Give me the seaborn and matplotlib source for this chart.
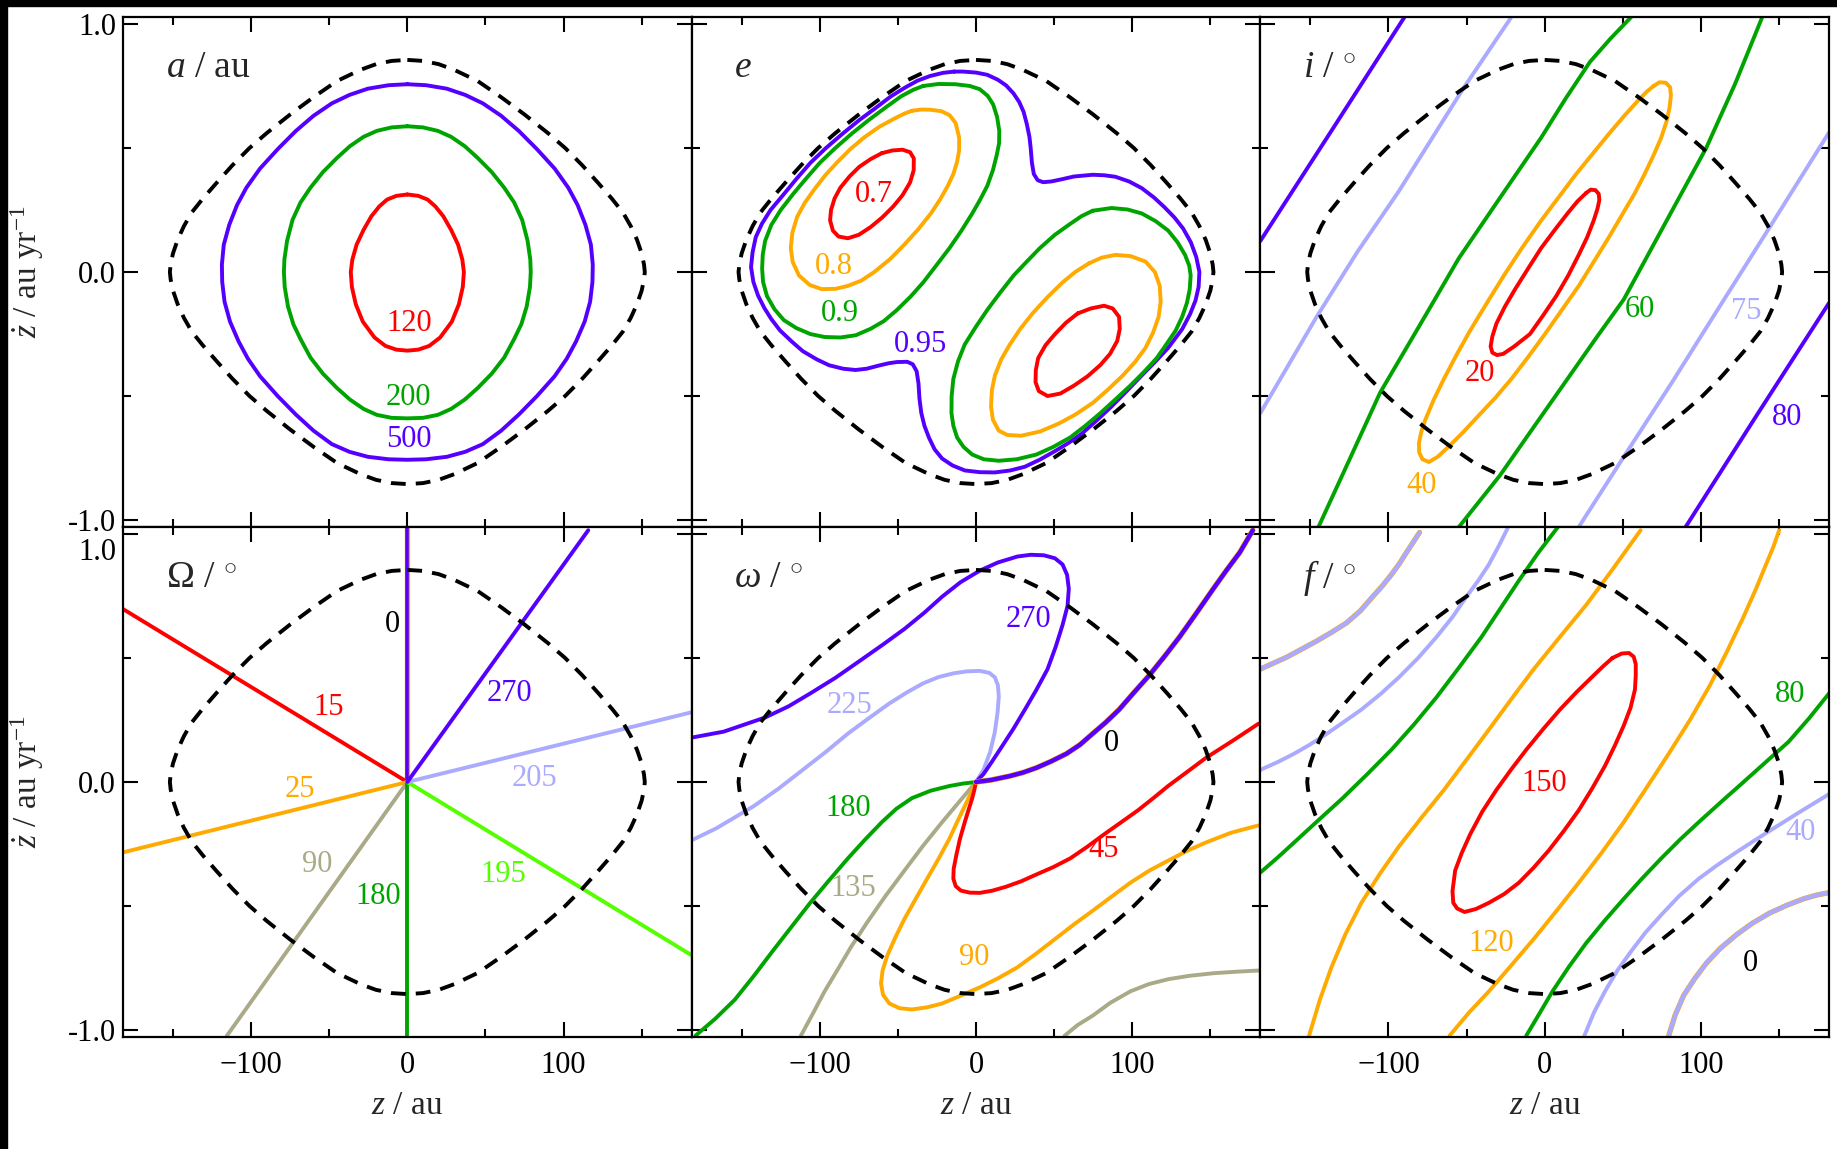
import matplotlib
matplotlib.use('Agg')
import matplotlib.pyplot as plt
import matplotlib.transforms as mtransforms
import seaborn as sns
import pandas as pd
from matplotlib.patches import Rectangle

# colours of the contour levels
RED = '#ff0000'
ORANGE = '#ffaa00'
GREEN = '#00a400'
PURPLE = '#5500ff'
LBLUE = '#aaaaff'
KHAKI = '#aaaa88'
LIME = '#55ff00'

# escape boundary (dashed), (z [au], zdot [au/yr])
BOUND = [(0, 0.855), (10, 0.851), (20, 0.838), (30, 0.815), (45, 0.77), (60, 0.705),
         (75, 0.635), (90, 0.56), (101, 0.5), (112, 0.43), (122, 0.36), (131, 0.295),
         (138, 0.24), (143, 0.185), (147, 0.13), (150, 0.075), (151.5, 0.03), (152, 0),
         (151.5, -0.03), (150, -0.075), (147, -0.13), (143, -0.185), (138, -0.24),
         (131, -0.295), (122, -0.36), (112, -0.43), (101, -0.5), (90, -0.56), (75, -0.635),
         (60, -0.705), (45, -0.77), (30, -0.815), (20, -0.838), (10, -0.851), (0, -0.855),
         (-10, -0.851), (-20, -0.838), (-30, -0.815), (-45, -0.77), (-60, -0.705),
         (-75, -0.635), (-90, -0.56), (-101, -0.5), (-112, -0.43), (-122, -0.36),
         (-131, -0.295), (-138, -0.24), (-143, -0.185), (-147, -0.13), (-150, -0.075),
         (-151.5, -0.03), (-152, 0), (-151.5, 0.03), (-150, 0.075), (-147, 0.13),
         (-143, 0.185), (-138, 0.24), (-131, 0.295), (-122, 0.36), (-112, 0.43),
         (-101, 0.5), (-90, 0.56), (-75, 0.635), (-60, 0.705), (-45, 0.77), (-30, 0.815),
         (-20, 0.838), (-10, 0.851)]

# ---- a / au
A_120 = [(0, 0.3125), (7, 0.307), (13, 0.292), (18, 0.264), (23, 0.225), (28, 0.17),
         (32.5, 0.11), (35.2, 0.05), (36.2, 0), (35.5, -0.06), (33, -0.13), (28.5, -0.2),
         (21, -0.264), (14, -0.298), (7, -0.313), (0, -0.317), (-7, -0.313), (-14, -0.298),
         (-21, -0.264), (-28.5, -0.2), (-33, -0.13), (-35.5, -0.06), (-36.2, 0),
         (-35.2, 0.05), (-32.5, 0.11), (-28, 0.17), (-23, 0.225), (-18, 0.264),
         (-13, 0.292), (-7, 0.307)]
A_200 = [(0, 0.5875), (10, 0.583), (19.5, 0.569), (28, 0.545), (36.8, 0.507), (45, 0.46),
         (54, 0.403), (62, 0.34), (68.4, 0.28), (73.5, 0.21), (77, 0.125), (78.7, 0.05),
         (79, 0), (78.5, -0.06), (76.4, -0.139), (73, -0.21), (68.4, -0.27), (62, -0.345),
         (54, -0.41), (45, -0.468), (36.8, -0.514), (28, -0.552), (19.5, -0.576),
         (10, -0.588), (0, -0.59), (-10, -0.588), (-19.5, -0.576), (-28, -0.552),
         (-36.8, -0.514), (-45, -0.468), (-54, -0.41), (-62, -0.345), (-68.4, -0.27),
         (-73, -0.21), (-76.4, -0.139), (-78.5, -0.06), (-79, 0), (-78.7, 0.05),
         (-77, 0.125), (-73.5, 0.21), (-68.4, 0.28), (-62, 0.34), (-54, 0.403),
         (-45, 0.46), (-36.8, 0.507), (-28, 0.545), (-19.5, 0.569), (-10, 0.583)]
A_500 = [(0, 0.757), (12, 0.753), (25.3, 0.739), (37, 0.714), (48.3, 0.68), (60, 0.63),
         (71.3, 0.569), (83, 0.495), (94.3, 0.417), (103, 0.34), (109, 0.27), (114, 0.19),
         (117.5, 0.11), (118.7, 0.03), (118.5, -0.04), (117, -0.12), (113.5, -0.2),
         (108, -0.28), (102, -0.35), (94.3, -0.42), (83, -0.5), (71.3, -0.575), (60, -0.64),
         (48.3, -0.694), (37, -0.725), (25.3, -0.745), (12, -0.755), (0, -0.757),
         (-12, -0.755), (-25.3, -0.745), (-37, -0.725), (-48.3, -0.694), (-60, -0.64),
         (-71.3, -0.575), (-83, -0.5), (-94.3, -0.42), (-102, -0.35), (-108, -0.28),
         (-113.5, -0.2), (-117, -0.12), (-118.5, -0.04), (-118.7, 0.03), (-117.5, 0.11),
         (-114, 0.19), (-109, 0.27), (-103, 0.34), (-94.3, 0.417), (-83, 0.495),
         (-71.3, 0.569), (-60, 0.63), (-48.3, 0.68), (-37, 0.714), (-25.3, 0.739),
         (-12, 0.753)]

# ---- e
E_095 = [(-14, 0.808), (-8.4, 0.808), (0, 0.804), (7.2, 0.795), (14, 0.775), (19.3, 0.752),
         (24, 0.72), (27.7, 0.685), (30.5, 0.645), (32.5, 0.597), (34.2, 0.545), (35, 0.5),
         (35.8, 0.44), (37, 0.395), (39.5, 0.37), (43, 0.362), (48.2, 0.365), (55, 0.374),
         (62.7, 0.385), (74.7, 0.392), (82, 0.39), (89.2, 0.384), (98, 0.365),
         (106.1, 0.338), (114, 0.3), (120.5, 0.262), (127, 0.22), (132.6, 0.175),
         (137.5, 0.12), (141, 0.06), (143, 0.0), (142.5, -0.06), (140.5, -0.115),
         (137, -0.17), (132, -0.23), (123, -0.306), (115, -0.36), (106.1, -0.417),
         (96.5, -0.48), (86.8, -0.542), (77, -0.6), (67.5, -0.653), (59, -0.69),
         (50.6, -0.722), (41, -0.756), (31.3, -0.785), (22, -0.8), (12.1, -0.808),
         (2.5, -0.807), (-7.2, -0.8), (-15, -0.78), (-21.7, -0.752), (-26.5, -0.715),
         (-30.1, -0.668), (-33, -0.62), (-35, -0.569), (-36.2, -0.51), (-36.8, -0.45),
         (-38, -0.4), (-40.5, -0.372), (-44, -0.362), (-50.6, -0.363), (-56, -0.368),
         (-62.7, -0.378), (-70, -0.39), (-77.1, -0.395), (-85, -0.39), (-94, -0.376),
         (-102, -0.352), (-110.9, -0.319), (-118, -0.28), (-125.4, -0.236), (-131, -0.19),
         (-135.5, -0.145), (-139.5, -0.095), (-142.5, -0.04), (-144, 0.02), (-143, 0.08),
         (-141, 0.14), (-137, 0.195), (-131.5, 0.25), (-123.5, 0.31), (-115, 0.375),
         (-106, 0.44), (-96, 0.5), (-85.5, 0.557), (-75, 0.611), (-64.5, 0.66),
         (-54.5, 0.708), (-45, 0.745), (-37.5, 0.771), (-29.5, 0.79), (-21, 0.803)]
E_09_UL = [(-33.8, 0.75), (-24, 0.758), (-13.3, 0.757), (-4, 0.75), (2.4, 0.737), (7.5, 0.71),
           (11, 0.675), (13.5, 0.625), (14.9, 0.569), (14.8, 0.52), (13.3, 0.472),
           (10.8, 0.41), (7.2, 0.347), (2.5, 0.29), (-2.4, 0.236), (-9.5, 0.165),
           (-16.9, 0.097), (-25, 0.03), (-33.8, -0.042), (-42, -0.1), (-50.6, -0.153),
           (-59, -0.198), (-67.5, -0.229), (-77, -0.255), (-86.8, -0.264), (-97, -0.262),
           (-106.1, -0.25), (-115, -0.226), (-123, -0.194), (-129, -0.15), (-133.8, -0.097),
           (-136.3, -0.04), (-136.9, 0.014), (-136.5, 0.07), (-135, 0.125), (-131, 0.19),
           (-125, 0.25), (-117, 0.315), (-109, 0.375), (-100, 0.44), (-90, 0.5),
           (-79.5, 0.558), (-69, 0.611), (-57.5, 0.665), (-48, 0.708), (-40, 0.735)]
E_09_LR = [(74.7, 0.247), (86.8, 0.258), (97, 0.252), (106.1, 0.236), (115, 0.205),
           (123, 0.167), (129, 0.12), (133.8, 0.069), (136.5, 0.025), (137.4, -0.014),
           (136.8, -0.07), (135, -0.125), (132, -0.18), (127.8, -0.236), (122, -0.29),
           (115.7, -0.347), (107.5, -0.403), (98.8, -0.458), (89, -0.515), (79.6, -0.569),
           (70, -0.62), (60.3, -0.667), (49.5, -0.705), (38.6, -0.736), (26, -0.755),
           (14.5, -0.761), (5, -0.755), (-2.4, -0.736), (-8, -0.705), (-12.1, -0.667),
           (-14.5, -0.62), (-15.7, -0.569), (-15.6, -0.5), (-14.5, -0.431), (-11.5, -0.36),
           (-7.2, -0.292), (0, -0.22), (7.2, -0.153), (15.5, -0.083), (24.1, -0.014),
           (32.5, 0.042), (41, 0.097), (50.5, 0.15), (60.3, 0.194), (67.5, 0.225)]
E_08_UL = [(-41.0, 0.65), (-35, 0.655), (-28.9, 0.654), (-22, 0.648), (-16.9, 0.632),
           (-13, 0.6), (-10.8, 0.542), (-10.8, 0.49), (-12.1, 0.444), (-14.5, 0.395),
           (-18.1, 0.347), (-23, 0.292), (-28.9, 0.236), (-37, 0.172), (-45.8, 0.111),
           (-55, 0.052), (-65.1, 0.0), (-73.5, -0.035), (-82, -0.056), (-90, -0.068),
           (-98.8, -0.069), (-106.5, -0.052), (-113.3, -0.014), (-117.3, 0.04),
           (-118.6, 0.097), (-117.5, 0.16), (-114.5, 0.222), (-109.5, 0.28), (-103.5, 0.333),
           (-96.5, 0.39), (-88.6, 0.444), (-80.5, 0.495), (-71.7, 0.542), (-62, 0.585),
           (-52.4, 0.618), (-46, 0.638)]
E_08_LR = [(72.3, 0.035), (80.5, 0.058), (89.2, 0.069), (99, 0.064), (108.5, 0.042),
           (114.5, 0.0), (117.6, -0.056), (118.2, -0.12), (116.9, -0.181), (113.3, -0.245),
           (108.5, -0.306), (101.5, -0.365), (94, -0.417), (84.5, -0.474), (74.7, -0.528),
           (63.5, -0.575), (53, -0.611), (41, -0.643), (28.9, -0.66), (20, -0.657),
           (14.5, -0.639), (10.8, -0.595), (9.6, -0.542), (10.2, -0.475), (12.1, -0.417),
           (16.2, -0.352), (21.7, -0.292), (28.5, -0.228), (36.2, -0.167), (45.5, -0.103),
           (55.4, -0.042), (63.5, 0.0)]
E_07_UL = [(-60.3, 0.479), (-53.5, 0.49), (-47, 0.493), (-42.2, 0.483), (-39.8, 0.458),
           (-39.9, 0.41), (-42.2, 0.361), (-47, 0.31), (-53, 0.264), (-60, 0.22),
           (-67.5, 0.181), (-75, 0.15), (-82, 0.136), (-88, 0.143), (-91.6, 0.167),
           (-93.4, 0.208), (-92.8, 0.25), (-90.5, 0.297), (-86.8, 0.34), (-81, 0.385),
           (-74.7, 0.424), (-67.5, 0.455)]
E_07_LR = [(65.1, -0.167), (73.5, -0.147), (82, -0.136), (87.5, -0.147), (91.6, -0.181),
           (92, -0.23), (90.4, -0.278), (85.8, -0.33), (79.6, -0.375), (71.5, -0.42),
           (62.7, -0.458), (54, -0.49), (45.8, -0.5), (40.2, -0.48), (38.1, -0.444),
           (38.3, -0.395), (39.8, -0.347), (44.5, -0.295), (50.6, -0.25), (57.5, -0.205)]

# ---- i / deg
I_80_UL = [(-182, 0.125), (-136.5, 0.569), (-89.7, 1.028)]
I_80_LR = [(90.2, -1.028), (136, -0.575), (182, -0.125)]
I_75_UL = [(-182, -0.569), (-146, -0.181), (-120, 0.08), (-93.3, 0.326), (-52.5, 0.736),
           (-21.3, 1.028)]
I_75_LR = [(21.8, -1.028), (53, -0.722), (82, -0.44), (110.6, -0.153), (144.1, 0.181),
           (182, 0.5625)]
I_60_UL = [(-144.8, -1.028), (-125, -0.757), (-105.3, -0.486), (-80, -0.215), (-54.9, 0.056),
           (-28.5, 0.3), (-2.2, 0.542), (13.5, 0.7), (29, 0.847), (42, 0.94), (55.4, 1.028)]
I_60_LR = [(-54.9, -1.028), (-28.5, -0.819), (-7, -0.625), (14.6, -0.431), (32.5, -0.27),
           (50.6, -0.111), (74.6, 0.167), (103.4, 0.5), (122, 0.76), (139.3, 1.028)]
I_40 = [(69.8, 0.75), (73.5, 0.765), (77.5, 0.763), (80.3, 0.745), (80.8, 0.712), (80, 0.665),
        (78.2, 0.611), (74.5, 0.54), (69.8, 0.472), (64, 0.395), (57.8, 0.319), (49.5, 0.23),
        (41, 0.139), (31.5, 0.042), (21.8, -0.056), (11, -0.153), (0.2, -0.25),
        (-10.5, -0.342), (-21.3, -0.431), (-32, -0.51), (-42.9, -0.583), (-52.5, -0.648),
        (-62.1, -0.708), (-68.5, -0.745), (-74.1, -0.766), (-78.2, -0.755), (-80.3, -0.728),
        (-80.5, -0.69), (-79, -0.645), (-76.5, -0.597), (-71, -0.515), (-64.5, -0.431),
        (-56.5, -0.335), (-47.7, -0.236), (-37, -0.125), (-26.1, -0.014), (-14.2, 0.1),
        (-2.2, 0.208), (8.8, 0.3), (19.4, 0.389), (30.5, 0.475), (41, 0.556), (51, 0.63),
        (60.2, 0.694), (65.5, 0.728)]
I_20 = [(26.6, 0.319), (29.5, 0.332), (32.5, 0.33), (34.6, 0.315), (35, 0.29), (33.8, 0.255),
        (31.4, 0.208), (27.2, 0.14), (21.8, 0.069), (15, -0.015), (7.4, -0.097), (-1, -0.175),
        (-9.4, -0.25), (-19.5, -0.3), (-26.5, -0.33), (-30.5, -0.335), (-33.5, -0.325),
        (-34.6, -0.3), (-33.5, -0.26), (-30.9, -0.208), (-25.5, -0.14), (-18.9, -0.069),
        (-10.5, 0.015), (-2.2, 0.097), (6.5, 0.17), (14.6, 0.236), (21, 0.285)]

# ---- Omega / deg (rays from the origin)
OM_0 = [(0, 0), (0, 1.028)]
OM_15 = [(0, 0), (-182.2, 0.698)]
OM_25 = [(0, 0), (-182.2, -0.284)]
OM_90 = [(0, 0), (-115.5, -1.023)]
OM_180 = [(0, 0), (0, -1.028)]
OM_195 = [(0, 0), (181.9, -0.698)]
OM_205 = [(0, 0), (181.9, 0.281)]
OM_270 = [(0, 0), (115.8, 1.015)]

# ---- omega / deg
W_270 = [(-182, 0.179), (-161.5, 0.203), (-135, 0.26), (-120, 0.305), (-106.1, 0.357),
         (-90, 0.42), (-74.7, 0.487), (-60, 0.552), (-45.8, 0.617), (-33, 0.683),
         (-21.7, 0.747), (-10, 0.805), (2.4, 0.852), (14, 0.885), (26.5, 0.909), (35, 0.916),
         (43.4, 0.914), (50.5, 0.902), (55.4, 0.877), (58.3, 0.835), (59.4, 0.779),
         (58.6, 0.71), (55.4, 0.633), (51, 0.545), (45.8, 0.455), (38.5, 0.37), (31.3, 0.292),
         (24, 0.215), (16.9, 0.146), (10, 0.08), (4.8, 0.032), (0, 0)]
W_0 = [(0, 0), (9.6, 0.008), (21.7, 0.024), (30, 0.038), (38.6, 0.057), (48, 0.083),
       (57.9, 0.114), (66.5, 0.15), (74.7, 0.195), (83, 0.24), (91.6, 0.292), (101, 0.36),
       (110.9, 0.43), (120.5, 0.505), (130.2, 0.584), (141, 0.68), (151.9, 0.779),
       (160.5, 0.855), (168.8, 0.925), (177.2, 1.015)]
W_225 = [(-182, -0.235), (-166.3, -0.187), (-142.2, -0.097), (-126, -0.025), (-110.9, 0.049),
         (-96, 0.122), (-82, 0.195), (-68, 0.26), (-55.4, 0.317), (-44, 0.362),
         (-33.8, 0.398), (-24, 0.423), (-14.5, 0.438), (-6, 0.446), (2.4, 0.448), (8.5, 0.44),
         (12.1, 0.422), (14, 0.39), (14.6, 0.345), (13.8, 0.28), (12, 0.2), (9, 0.12),
         (4.8, 0.049), (0, 0)]
W_180 = [(0, 0), (-8, -0.006), (-16.9, -0.016), (-29, -0.035), (-41, -0.065), (-51, -0.108),
         (-60.3, -0.162), (-71, -0.232), (-82, -0.308), (-94, -0.396), (-106.1, -0.487),
         (-118, -0.583), (-130.2, -0.682), (-142, -0.78), (-154.3, -0.877), (-167, -0.955),
         (-179.6, -1.023)]
W_135_A = [(0, 0), (-10.5, -0.078), (-21.7, -0.162), (-34, -0.258), (-45.8, -0.357),
           (-58, -0.46), (-69.9, -0.568), (-80, -0.665), (-89.2, -0.763), (-97, -0.845),
           (-103.7, -0.925), (-112.1, -1.023)]
W_135_B = [(56.7, -1.023), (65, -0.98), (74.7, -0.942), (86, -0.89), (98.8, -0.844),
           (110.5, -0.815), (123, -0.795), (137, -0.781), (151.9, -0.771), (166, -0.765),
           (180.8, -0.76)]
W_90 = [(0, 0), (-3.5, -0.048), (-7.2, -0.097), (-12, -0.16), (-16.9, -0.227), (-24, -0.31),
        (-31.3, -0.39), (-38.5, -0.47), (-45.8, -0.552), (-51.5, -0.625), (-56.7, -0.698),
        (-59.8, -0.76), (-60.8, -0.812), (-59.5, -0.858), (-55.4, -0.893), (-49, -0.912),
        (-41, -0.917), (-31, -0.908), (-21.7, -0.893), (-10, -0.862), (2.4, -0.828),
        (14.5, -0.79), (26.5, -0.747), (38.5, -0.692), (50.6, -0.633), (62.5, -0.575),
        (74.7, -0.519), (86.8, -0.462), (98.8, -0.406), (111, -0.357), (123, -0.317),
        (135, -0.278), (147.1, -0.244), (163, -0.205), (180.8, -0.175)]
W_45 = [(0, 0), (-1, -0.03), (-2.4, -0.065), (-4.8, -0.113), (-7.2, -0.162), (-10.3, -0.23),
        (-12.5, -0.292), (-14.3, -0.35), (-14.5, -0.39), (-13, -0.42), (-9.6, -0.438),
        (-4, -0.446), (2.4, -0.447), (10.5, -0.438), (19.3, -0.422), (29, -0.4),
        (38.6, -0.373), (49.5, -0.343), (60.3, -0.308), (71, -0.262), (82, -0.211),
        (93, -0.162), (103.7, -0.114), (113.5, -0.065), (123, -0.016), (135, 0.04),
        (147.1, 0.097), (164, 0.165), (180.8, 0.235)]

# ---- f / deg
F_0_UL = [(-182, 0.455), (-174, 0.478), (-165.2, 0.503), (-156, 0.534), (-146, 0.568),
          (-136.5, 0.603), (-126.9, 0.641), (-118, 0.69), (-110.1, 0.747), (-104, 0.79),
          (-98.1, 0.836), (-93, 0.88), (-88.5, 0.925), (-84, 0.968), (-80.1, 1.006)]
F_0_LR = [(79.4, -1.023), (83.5, -0.94), (89, -0.86), (96, -0.793), (103.4, -0.731),
          (112.5, -0.67), (122.5, -0.617), (133, -0.569), (144.1, -0.528), (155, -0.497),
          (165.7, -0.471), (174, -0.456), (182, -0.446)]
F_40_UL = [(-182, 0.049), (-171, 0.08), (-160.4, 0.114), (-151, 0.148), (-141.2, 0.187),
           (-129.5, 0.238), (-117.3, 0.292), (-105, 0.355), (-93.3, 0.422), (-81, 0.5),
           (-69.3, 0.584), (-59, 0.665), (-50.1, 0.747), (-42.5, 0.812), (-35.7, 0.877),
           (-29.5, 0.95), (-23.7, 1.023)]
F_40_LR = [(25.4, -1.023), (31.5, -0.93), (38.6, -0.844), (46.5, -0.76), (55.4, -0.682),
           (64.5, -0.607), (74.6, -0.536), (86, -0.46), (98.6, -0.39), (110.5, -0.335),
           (122.5, -0.284), (134.5, -0.235), (146.5, -0.187), (164, -0.118), (182, -0.049)]
F_80_UL = [(-182, -0.365), (-171, -0.305), (-160.4, -0.244), (-145, -0.155), (-129.3, -0.065),
           (-113.5, 0.032), (-98.1, 0.13), (-83.5, 0.233), (-69.3, 0.341), (-55, 0.46),
           (-40.5, 0.584), (-28.5, 0.698), (-16.5, 0.812), (-4, 0.925), (8.5, 1.028)]
F_80_LR = [(-11.8, -1.023), (-3.5, -0.935), (5, -0.844), (15.5, -0.745), (26.6, -0.649),
           (38.5, -0.558), (50.6, -0.471), (62.5, -0.388), (74.6, -0.308), (86.5, -0.233),
           (98.6, -0.162), (113, -0.08), (127.3, 0.0), (141.5, 0.08), (156.1, 0.162),
           (169, 0.255), (182, 0.357)]
F_120_L = [(-150.8, -1.023), (-144, -0.88), (-136.5, -0.747), (-127.5, -0.613),
           (-117.3, -0.487), (-105.5, -0.37), (-93.3, -0.26), (-79, -0.145), (-64.5, -0.032),
           (-50, 0.09), (-35.7, 0.211), (-21.5, 0.333), (-7, 0.455), (9.5, 0.583),
           (26.6, 0.714), (44, 0.862), (61.4, 1.015)]
F_120_R = [(-60.9, -1.023), (-48.5, -0.93), (-35.7, -0.844), (-21.5, -0.74), (-7, -0.633),
           (7.5, -0.52), (21.8, -0.406), (36.5, -0.285), (50.6, -0.162), (65, -0.025),
           (79.4, 0.114), (93, 0.25), (105.8, 0.39), (117, 0.53), (127.3, 0.666),
           (135, 0.775), (141.7, 0.877), (146.5, 0.95), (150.1, 1.015)]
F_150 = [(43.4, 0.5), (49.4, 0.518), (54, 0.52), (57, 0.505), (58.3, 0.475), (58.3, 0.43),
         (57.8, 0.373), (55, 0.3), (50.6, 0.227), (45, 0.148), (38.6, 0.065), (30.5, -0.025),
         (21.8, -0.114), (12.3, -0.197), (2.6, -0.276), (-7, -0.345), (-16.5, -0.406),
         (-26, -0.452), (-35.7, -0.487), (-44, -0.512), (-51.3, -0.524), (-56, -0.51),
         (-58.5, -0.487), (-59, -0.44), (-57.3, -0.357), (-53, -0.285), (-47.7, -0.211),
         (-40, -0.12), (-30.9, -0.032), (-21.5, 0.05), (-11.8, 0.13), (-1, 0.213),
         (9.8, 0.292), (20.5, 0.363), (31.4, 0.43), (37.5, 0.467)]

# panel titles and contour labels (text, z, zdot, colour)
TITLES = [r'$a$ / au', r'$e$', r'$i$ / $^{\circ}$',
          r'$\Omega$ / $^{\circ}$', r'$\omega$ / $^{\circ}$', r'$f$ / $^{\circ}$']
LABELS_A = [('120', 0.9, -0.208, RED), ('200', 0.9, -0.507, GREEN), ('500', 0.9, -0.674, PURPLE)]
LABELS_E = [('0.7', -65.6, 0.3125, RED), ('0.8', -91.1, 0.021, ORANGE),
            ('0.9', -87.3, -0.167, GREEN), ('0.95', -35.4, -0.292, PURPLE)]
LABELS_I = [('20', -41.2, -0.41, RED), ('40', -78.9, -0.861, ORANGE), ('60', 60.7, -0.153, GREEN),
            ('75', 129.3, -0.16, LBLUE), ('80', 155.4, -0.586, PURPLE)]
LABELS_OM = [('0', -9.8, 0.633, 'black'), ('15', -50.3, 0.30, RED), ('25', -69, -0.032, ORANGE),
             ('90', -57.5, -0.333, KHAKI), ('180', -18.4, -0.463, GREEN),
             ('195', 61.2, -0.373, LIME), ('205', 81.3, 0.016, LBLUE),
             ('270', 65.5, 0.357, PURPLE)]
LABELS_W = [('270', 33.8, 0.657, PURPLE), ('225', -80.8, 0.308, LBLUE),
            ('180', -81.5, -0.106, GREEN), ('135', -78.3, -0.43, KHAKI),
            ('90', -1.2, -0.706, ORANGE), ('45', 81.5, -0.273, RED), ('0', 86.8, 0.154, 'black')]
LABELS_F = [('150', -0.5, -0.008, RED), ('120', -34.5, -0.653, ORANGE), ('80', 157.3, 0.352, GREEN),
            ('40', 163.8, -0.203, LBLUE), ('0', 131.4, -0.731, 'black')]

sns.set_style('ticks')
plt.rcParams['font.family'] = ['Liberation Serif', 'DejaVu Serif']
plt.rcParams['mathtext.fontset'] = 'custom'
plt.rcParams['mathtext.rm'] = 'Liberation Serif'
plt.rcParams['mathtext.it'] = 'Liberation Serif:italic'
plt.rcParams['mathtext.bf'] = 'Liberation Serif:bold'

LW = 2.8


def curve(ax, pts, color, lw=LW, closed=False, **kw):
    if closed:
        pts = pts + pts[:1]
    df = pd.DataFrame(pts, columns=['z', 'zd'])
    sns.lineplot(data=df, x='z', y='zd', sort=False, estimator=None, color=color,
                 lw=lw, ax=ax, **kw)


fig, axes = plt.subplots(2, 3, figsize=(18.37, 11.49), dpi=100)
fig.subplots_adjust(left=123 / 1837, right=1829 / 1837, top=1 - 17 / 1149,
                    bottom=1 - 1037 / 1149, wspace=0, hspace=0)

# a
ax = axes[0, 0]
curve(ax, A_120, RED, closed=True)
curve(ax, A_200, GREEN, closed=True)
curve(ax, A_500, PURPLE, closed=True)

# e
ax = axes[0, 1]
curve(ax, E_095, PURPLE, closed=True)
for c in (E_09_UL, E_09_LR):
    curve(ax, c, GREEN, closed=True)
for c in (E_08_UL, E_08_LR):
    curve(ax, c, ORANGE, closed=True)
for c in (E_07_UL, E_07_LR):
    curve(ax, c, RED, closed=True)

# i
ax = axes[0, 2]
for c in (I_80_UL, I_80_LR):
    curve(ax, c, PURPLE)
for c in (I_75_UL, I_75_LR):
    curve(ax, c, LBLUE)
for c in (I_60_UL, I_60_LR):
    curve(ax, c, GREEN)
curve(ax, I_40, ORANGE, closed=True)
curve(ax, I_20, RED, closed=True)

# Omega
ax = axes[1, 0]
curve(ax, OM_0, ORANGE, lw=3.8)
curve(ax, OM_0, PURPLE, lw=2.6)
for c, col in ((OM_15, RED), (OM_25, ORANGE), (OM_90, KHAKI), (OM_180, GREEN),
               (OM_195, LIME), (OM_205, LBLUE), (OM_270, PURPLE)):
    curve(ax, c, col)

# omega
ax = axes[1, 1]
curve(ax, W_225, LBLUE)
curve(ax, W_135_A, KHAKI)
curve(ax, W_135_B, KHAKI)
curve(ax, W_180, GREEN)
curve(ax, W_90, ORANGE)
curve(ax, W_45, RED)
curve(ax, W_270, PURPLE)
curve(ax, W_0, ORANGE, lw=4.0)
curve(ax, W_0, PURPLE, lw=3.2)

# f
ax = axes[1, 2]
for c in (F_0_UL, F_0_LR):
    curve(ax, c, ORANGE, lw=3.8)
    curve(ax, c, LBLUE, lw=3.2)
for c in (F_40_UL, F_40_LR):
    curve(ax, c, LBLUE)
for c in (F_80_UL, F_80_LR):
    curve(ax, c, GREEN)
for c in (F_120_L, F_120_R):
    curve(ax, c, ORANGE)
curve(ax, F_150, RED, closed=True)

all_labels = [LABELS_A, LABELS_E, LABELS_I, LABELS_OM, LABELS_W, LABELS_F]
for k, ax in enumerate(axes.flat):
    row, col = divmod(k, 3)
    curve(ax, BOUND, 'black', lw=LW, closed=True, linestyle=(0, (3.8, 2.6)), zorder=5)
    for s, z, zd, c in all_labels[k]:
        ax.text(z, zd, s, color=c, fontsize=22, ha='center', va='center', zorder=6)
    ax.text(0.075, 0.90, TITLES[k], transform=ax.transAxes, fontsize=27,
            ha='left', va='center', zorder=6)

    ax.set_xlim(-182, 182)
    ax.set_ylim(-1.028, 1.028)
    ax.set_xticks([-100, 0, 100])
    ax.set_xticks([-150, -50, 50, 150], minor=True)
    ax.set_yticks([-1, 0, 1])
    ax.set_yticks([-0.5, 0.5], minor=True)
    ax.tick_params(which='both', direction='in', top=True, right=True, width=1.5,
                   colors='black')
    ax.tick_params(which='major', length=11, labelsize=22)
    ax.tick_params(which='minor', length=6)
    ax.tick_params(axis='x', pad=10)
    ax.tick_params(axis='y', pad=5)
    for sp in ax.spines.values():
        sp.set_linewidth(1.6)
        sp.set_color('black')

    if col == 0:
        ax.set_yticklabels(['-1.0', '0.0', '1.0'])
        ax.set_ylabel(r'$\dot{z}$ / au yr$^{-1}$', fontsize=24, labelpad=16)
        if row == 1:
            # the lower "1.0" sits just below its tick, clear of the "-1.0" above
            lab = ax.get_yticklabels()[2]
            lab.set_va('top')
            lab.set_transform(lab.get_transform() +
                              mtransforms.ScaledTranslation(0, -3 / 72, fig.dpi_scale_trans))
    else:
        ax.tick_params(axis='y', labelleft=False)
        ax.set_ylabel('')
    if row == 1:
        ax.set_xticklabels(['\u2212100', '0', '100'])
        ax.set_xlabel(r'$z$ / au', fontsize=24, labelpad=8)
    else:
        ax.tick_params(axis='x', labelbottom=False)
        ax.set_xlabel('')

# black strips along the top and left edge of the original image
fig.patches.append(Rectangle((0, 1 - 6 / 1149), 1, 6 / 1149, transform=fig.transFigure,
                             color='black', zorder=10))
fig.patches.append(Rectangle((0, 0), 7 / 1837, 1, transform=fig.transFigure,
                             color='black', zorder=10))

fig.savefig('out.png', dpi=100)
